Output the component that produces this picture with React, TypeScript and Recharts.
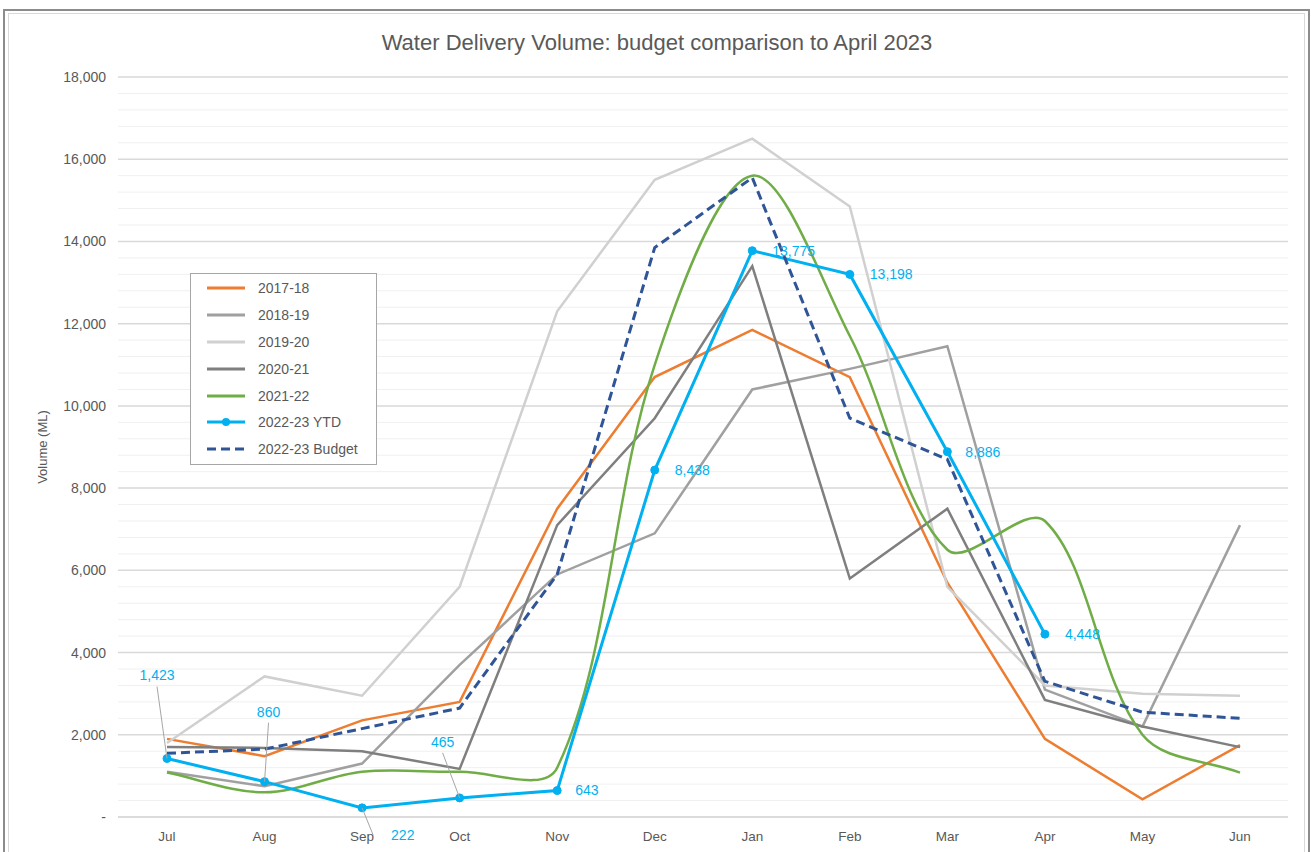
import React from 'react';
import { LineChart, Line, XAxis, YAxis, CartesianGrid, Legend, ReferenceLine, Label } from 'recharts';

const months = ['Jul', 'Aug', 'Sep', 'Oct', 'Nov', 'Dec', 'Jan', 'Feb', 'Mar', 'Apr', 'May', 'Jun'];
const fy1718 = [1900, 1480, 2350, 2800, 7500, 10700, 11850, 10700, 5700, 1900, 430, 1750];
const fy1819 = [1100, 750, 1300, 3700, 5900, 6900, 10400, 10900, 11450, 3100, 2200, 7100];
const fy1920 = [1800, 3420, 2950, 5600, 12300, 15500, 16500, 14850, 5600, 3200, 3000, 2950];
const fy2021 = [1700, 1680, 1600, 1170, 7100, 9700, 13400, 5800, 7500, 2850, 2200, 1700];
const fy2122 = [1080, 600, 1100, 1100, 1200, 11000, 15600, 11700, 6500, 7200, 2000, 1080];
const ytd2223 = [1423, 860, 222, 465, 643, 8438, 13775, 13198, 8886, 4448, null, null];
const budget2223 = [1550, 1650, 2150, 2650, 5900, 13850, 15550, 9700, 8700, 3300, 2550, 2400];

const yTicks = [0, 2000, 4000, 6000, 8000, 10000, 12000, 14000, 16000, 18000];

const data = months.map((month, i) => ({
  month,
  fy1718: fy1718[i],
  fy1819: fy1819[i],
  fy1920: fy1920[i],
  fy2021: fy2021[i],
  fy2122: fy2122[i],
  ytd2223: ytd2223[i],
  budget2223: budget2223[i],
}));

const series = [
  { key: 'fy1718', name: '2017-18', color: '#ED7D31' },
  { key: 'fy1819', name: '2018-19', color: '#A0A0A0' },
  { key: 'fy1920', name: '2019-20', color: '#D0D0D0' },
  { key: 'fy2021', name: '2020-21', color: '#7F7F7F' },
  { key: 'fy2122', name: '2021-22', color: '#70AD47' },
  { key: 'ytd2223', name: '2022-23 YTD', color: '#00B0F0', marker: true },
  { key: 'budget2223', name: '2022-23 Budget', color: '#2F5597', dash: '9 5' },
];

// label placement for the YTD values (offset from the point; leader = thin line back to the point)
const ytdLabelPos = [
  { dx: -10, dy: -83, anchor: 'middle', leader: true },
  { dx: 4, dy: -70, anchor: 'middle', leader: true },
  { dx: 29, dy: 27, anchor: 'start', leader: true },
  { dx: -17, dy: -56, anchor: 'middle', leader: true },
  { dx: 18, dy: 0, anchor: 'start' },
  { dx: 20, dy: 0, anchor: 'start' },
  { dx: 20, dy: 0, anchor: 'start' },
  { dx: 20, dy: 0, anchor: 'start' },
  { dx: 18, dy: 0, anchor: 'start' },
  { dx: 20, dy: 0, anchor: 'start' },
];

const FONT = '"Liberation Sans", Arial, sans-serif';
const TEXT = '#595959';

// excel-ish smoothed line: bezier through the points, handle length weighted by segment length
const excelSmooth = (context: any) => {
  let pts: number[][] = [];
  return {
    areaStart() {},
    areaEnd() {},
    lineStart() {
      pts = [];
    },
    point(x: number, y: number) {
      pts.push([+x, +y]);
    },
    lineEnd() {
      const n = pts.length;
      if (!n) return;
      const dist = (a: number[], b: number[]) => Math.hypot(b[0] - a[0], b[1] - a[1]);
      // in / out control points per point
      const cin: number[][] = [];
      const cout: number[][] = [];
      for (let i = 0; i < n; i++) {
        const p0 = pts[i - 1] || pts[i];
        const p1 = pts[i];
        const p2 = pts[i + 1] || pts[i];
        const tx = p2[0] - p0[0];
        const ty = p2[1] - p0[1];
        const d01 = dist(p0, p1);
        const d12 = dist(p1, p2);
        const sum = d01 + d12 || 1;
        const kIn = d01 / sum / 3;
        const kOut = d12 / sum / 3;
        cin.push([p1[0] - tx * kIn, p1[1] - ty * kIn]);
        cout.push([p1[0] + tx * kOut, p1[1] + ty * kOut]);
      }
      context.moveTo(pts[0][0], pts[0][1]);
      for (let i = 0; i < n - 1; i++) {
        context.bezierCurveTo(cout[i][0], cout[i][1], cin[i + 1][0], cin[i + 1][1], pts[i + 1][0], pts[i + 1][1]);
      }
    },
  };
};

const YtdLabel = (props: any) => {
  const { x, y, value, index } = props;
  const pos = ytdLabelPos[index];
  if (value == null || !pos) return null;
  const tx = x + pos.dx;
  const ty = y + pos.dy;
  let leader = null;
  if (pos.leader) {
    const ly = pos.dy < 0 ? ty + 11 : ty;
    const lx = pos.dy < 0 ? tx : tx - 18;
    leader = <line x1={lx} y1={ly} x2={x} y2={y} stroke="#a6a6a6" strokeWidth={1} />;
  }
  return (
    <g>
      {leader}
      <text x={tx} y={ty} dy="0.35em" textAnchor={pos.anchor} fill="#00B0F0" fontSize={14} fontFamily={FONT}>
        {value.toLocaleString('en-US')}
      </text>
    </g>
  );
};

const LegendBox = () => (
  <div
    style={{
      border: '1px solid #a6a6a6',
      background: '#fff',
      width: 187,
      height: 192,
      boxSizing: 'border-box',
      padding: '1px 0 0 16px',
      fontFamily: FONT,
      fontSize: 14,
      color: TEXT,
    }}
  >
    {series.map((s) => (
      <div key={s.key} style={{ display: 'flex', alignItems: 'center', height: 26.8 }}>
        <svg width={38} height={10} style={{ flex: 'none' }}>
          <line x1={0} x2={38} y1={5} y2={5} stroke={s.color} strokeWidth={3} strokeDasharray={s.dash} />
          {s.marker && <circle cx={19} cy={5} r={4} fill={s.color} />}
        </svg>
        <span style={{ marginLeft: 13, whiteSpace: 'nowrap' }}>{s.name}</span>
      </div>
    ))}
  </div>
);

const minorLines: number[] = [];
for (let v = 400; v < 18000; v += 400) {
  if (v % 2000 !== 0) minorLines.push(v);
}

const xTickStyle = { fill: TEXT, fontSize: 13.5, fontFamily: FONT };
const yTickStyle = { fill: TEXT, fontSize: 14, fontFamily: FONT };

export default function App() {
  return (
    <div style={{ position: 'absolute', left: 0, top: 0, width: 1311, height: 852, background: '#fff', overflow: 'hidden' }}>
      <div style={{ position: 'absolute', left: 3, top: 9, width: 1307, height: 900, border: '2px solid #8c8c8c', boxSizing: 'border-box' }} />
      <div style={{ position: 'absolute', left: 8, top: 13, width: 1297, height: 900, border: '1px solid #d9d9d9', boxSizing: 'border-box' }} />
      <div
        style={{
          position: 'absolute',
          left: 0,
          top: 30,
          width: 1314,
          textAlign: 'center',
          fontFamily: FONT,
          fontSize: 22,
          lineHeight: '26px',
          color: TEXT,
        }}
      >
        Water Delivery Volume: budget comparison to April 2023
      </div>
      <div style={{ position: 'absolute', left: 0, top: 0 }}>
        <LineChart width={1311} height={852} data={data} margin={{ top: 77, right: 23, bottom: 5, left: 0 }}>
          <CartesianGrid vertical={false} stroke="#d9d9d9" strokeWidth={1.5} />
          {minorLines.map((v) => (
            <ReferenceLine key={v} y={v} stroke="#f0f0f0" strokeWidth={1} ifOverflow="hidden" />
          ))}
          <XAxis
            dataKey="month"
            height={30}
            padding={{ left: 49, right: 48 }}
            tickLine={false}
            axisLine={{ stroke: '#d9d9d9', strokeWidth: 1.5 }}
            tickMargin={8}
            tick={xTickStyle}
            interval={0}
          />
          <YAxis
            width={118}
            domain={[0, 18000]}
            ticks={yTicks}
            interval={0}
            tickLine={false}
            axisLine={false}
            tickMargin={6}
            tick={yTickStyle}
            tickFormatter={(v: number) => (v === 0 ? '-' : v.toLocaleString('en-US'))}
          >
            <Label
              content={(p: any) => {
                const vb = p.viewBox;
                const cx = vb.x + 42;
                const cy = vb.y + vb.height / 2;
                return (
                  <text x={cx} y={cy} transform={`rotate(-90, ${cx}, ${cy})`} textAnchor="middle" dy="0.35em" fill={TEXT} fontSize={13} fontFamily={FONT}>
                    Volume (ML)
                  </text>
                );
              }}
            />
          </YAxis>
          <Legend
            layout="vertical"
            align="center"
            verticalAlign="middle"
            content={<LegendBox />}
            wrapperStyle={{ left: 190, top: 273, width: 187, height: 192 }}
          />
          <Line dataKey="fy1718" name="2017-18" stroke="#ED7D31" strokeWidth={2.5} dot={false} type="linear" isAnimationActive={false} />
          <Line dataKey="fy1819" name="2018-19" stroke="#A0A0A0" strokeWidth={2.5} dot={false} type="linear" isAnimationActive={false} />
          <Line dataKey="fy1920" name="2019-20" stroke="#D0D0D0" strokeWidth={2.5} dot={false} type="linear" isAnimationActive={false} />
          <Line dataKey="fy2021" name="2020-21" stroke="#7F7F7F" strokeWidth={2.5} dot={false} type="linear" isAnimationActive={false} />
          <Line dataKey="fy2122" name="2021-22" stroke="#70AD47" strokeWidth={2.5} dot={false} type={excelSmooth as any} isAnimationActive={false} />
          <Line
            dataKey="ytd2223"
            name="2022-23 YTD"
            stroke="#00B0F0"
            strokeWidth={3}
            type="linear"
            dot={{ r: 4, fill: '#00B0F0', stroke: '#00B0F0', strokeWidth: 1 }}
            activeDot={false}
            label={<YtdLabel />}
            isAnimationActive={false}
          />
          <Line
            dataKey="budget2223"
            name="2022-23 Budget"
            stroke="#2F5597"
            strokeWidth={3}
            strokeDasharray="9 5"
            dot={false}
            type="linear"
            isAnimationActive={false}
          />
        </LineChart>
      </div>
    </div>
  );
}
